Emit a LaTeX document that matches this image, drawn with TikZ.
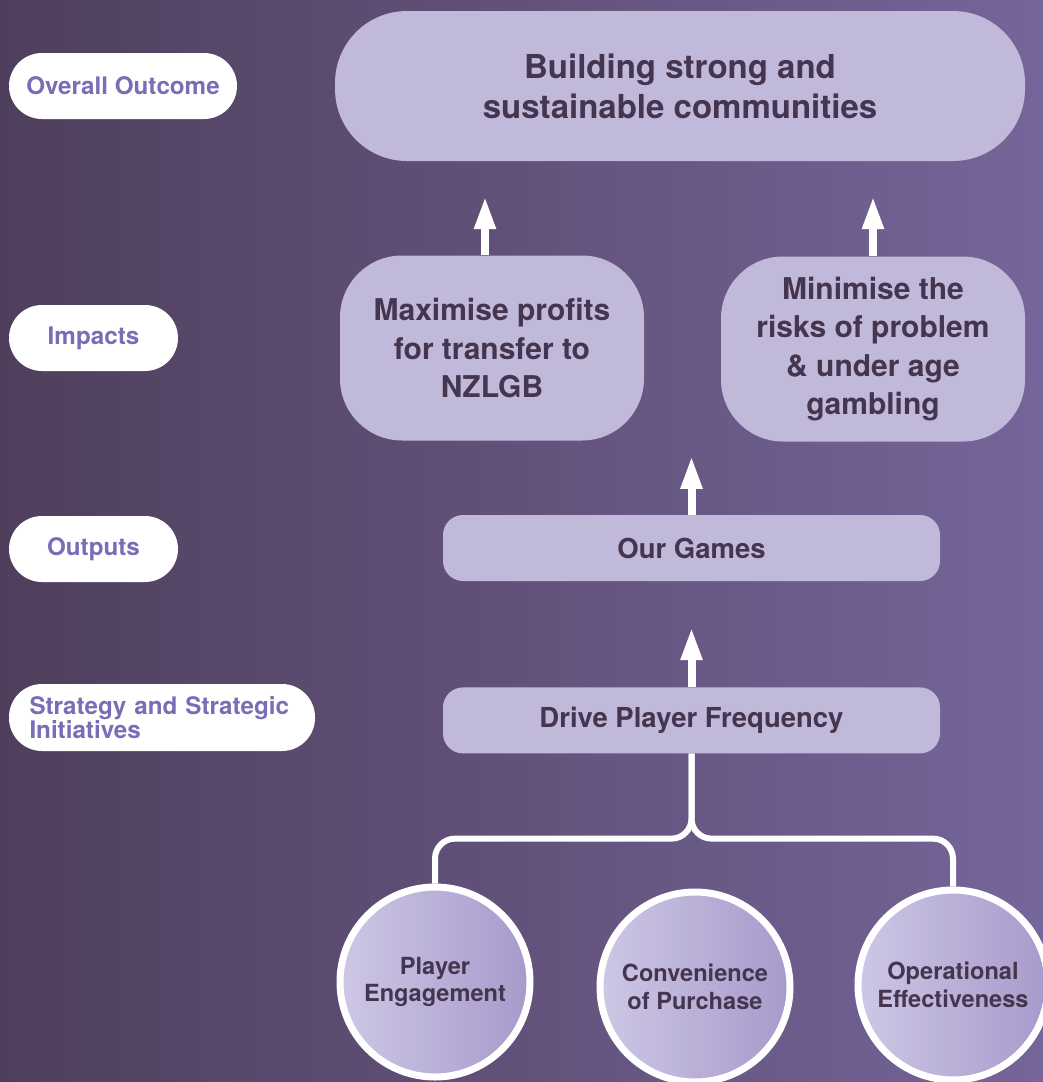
\documentclass[tikz,border=0pt]{standalone}
\usepackage{fontspec}
\setmainfont{TeX Gyre Heros}
\usetikzlibrary{arrows.meta,positioning}
\definecolor{bgleft}{RGB}{79,63,92}
\definecolor{bgright}{RGB}{117,101,154}
\definecolor{lilac}{RGB}{193,185,218}
\definecolor{lilaclight}{RGB}{206,199,229}
\definecolor{lilacdark}{RGB}{166,154,203}
\definecolor{ink}{RGB}{69,53,79}
\definecolor{tagpurple}{RGB}{122,108,182}

\begin{document}
\begin{tikzpicture}[
  x=1pt,y=-1pt,
  box/.style={fill=lilac,text=ink,align=center,inner sep=0pt},
  topbox/.style={box,minimum width=690pt,minimum height=150pt,rounded corners=72pt,font=\fontsize{33}{40}\selectfont\bfseries},
  impact/.style={box,minimum width=304pt,minimum height=185pt,rounded corners=62pt,font=\fontsize{30}{38.5}\selectfont\bfseries},
  bar/.style={box,minimum width=497pt,minimum height=66pt,rounded corners=20pt,font=\fontsize{27.5}{32}\selectfont\bfseries},
  tag/.style={fill=white,text=tagpurple,rounded corners=33pt,minimum height=66pt,inner sep=0pt,align=center,font=\fontsize{24.2}{24}\selectfont\bfseries},
  bubble/.style={circle,draw=white,line width=7pt,minimum size=190pt,left color=lilaclight,right color=lilacdark,text=ink,align=center,inner sep=0pt,font=\fontsize{23.6}{27.5}\selectfont\bfseries},
  arr/.style={-{Triangle[length=33pt,width=20pt]},line width=8pt,white},
  link/.style={white,line width=6pt,rounded corners=20pt},
  ]
  \shade[left color=bgleft,right color=bgright] (0,0) rectangle (1043,1082);
  \useasboundingbox (0,0) rectangle (1043,1082);

  % row labels
  \node[tag,minimum width=228pt] (tagoutcome) at (123,86) {Overall Outcome};
  \node[tag,minimum width=169pt] (tagimpacts) at (93.5,338) {Impacts};
  \node[tag,minimum width=169pt] (tagoutputs) at (93.5,549) {Outputs};
  \node[tag,text width=265pt,inner xsep=20.5pt,align=left,minimum height=67pt] (tagstrategy) at (162,717.5) {Strategy and Strategic\\Initiatives};

  % chain
  \node[topbox] (outcome) at (680,86) {Building strong and\\sustainable communities};
  \node[impact] (profits) at (492,348) {Maximise profits\\for transfer to\\NZLGB};
  \node[impact] (harm) at (873,349) {Minimise the\\risks of problem\\\& under age\\gambling};
  \node[bar] (games) at (691.5,548) {Our Games};
  \node[bar,below=106pt of games] (drive) {Drive Player Frequency};

  \node[bubble] (engage) at (435,982) {Player\\Engagement};
  \node[bubble] (purchase) at (695,987) {Convenience\\of Purchase};
  \node[bubble] (effect) at (953,985) {Operational\\Effectiveness};

  \coordinate[above=59pt of games] (gamestip);

  \draw[arr,shorten >=35pt] ([xshift=-7pt]profits.north) -- ([xshift=-7pt]profits.north |- outcome.south);
  \draw[arr,shorten >=35pt] (harm.north) -- (harm.north |- outcome.south);
  \draw[arr] (games.north) -- (gamestip);
  \draw[arr,shorten >=46pt] (drive.north) -- (games.south);

  \draw[link] (drive.south) -- ++(0,85) -| (engage.north);
  \draw[link] (drive.south) -- ++(0,85) -| (effect.north);
\end{tikzpicture}
\end{document}
